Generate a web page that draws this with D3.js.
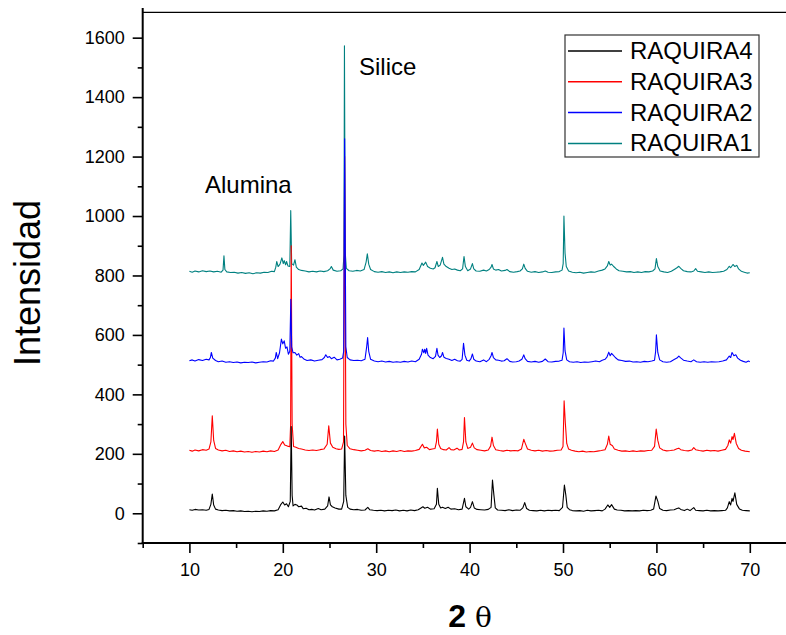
<!DOCTYPE html>
<html>
<head>
<meta charset="utf-8">
<script src="https://cdn.jsdelivr.net/npm/d3@7"></script>
<style>
  html, body { margin: 0; padding: 0; background: #fff; }
  svg { display: block; font-family: "Liberation Sans", Arial, sans-serif; }
</style>
</head>
<body>
<svg id="chart" width="786" height="635"></svg>
<script>
// XRD patterns: [2θ, intensity] pairs for each sample (offset stacked)
const raquira4 = [[10.0,12],[10.3,10],[10.6,13],[11.0,11],[11.4,12],[11.8,10],[12.1,13],[12.3,30],[12.45,65],[12.6,28],[12.8,14],[13.1,11],[13.5,9],[13.9,10],[14.3,8],[14.7,9],[15.1,7],[15.5,8],[15.9,6],[16.3,7],[16.7,5],[17.1,7],[17.5,6],[17.9,8],[18.3,7],[18.7,9],[19.1,8],[19.5,12],[19.8,30],[20.0,38],[20.2,28],[20.4,32],[20.6,22],[20.8,40],[20.9,292],[21.0,60],[21.1,25],[21.3,30],[21.5,28],[21.7,22],[22.0,24],[22.2,15],[22.5,17],[22.8,12],[23.1,13],[23.4,11],[23.8,16],[24.1,12],[24.5,14],[24.8,25],[24.95,55],[25.1,28],[25.3,22],[25.6,18],[26.0,14],[26.3,14],[26.52,40],[26.62,260],[26.75,60],[26.95,20],[27.2,14],[27.6,12],[28.0,13],[28.4,10],[28.8,11],[29.1,20],[29.3,12],[29.7,10],[30.1,9],[30.5,10],[30.9,8],[31.3,10],[31.7,9],[32.1,11],[32.5,8],[32.9,10],[33.3,8],[33.7,11],[34.1,9],[34.5,12],[34.8,18],[35.0,22],[35.2,17],[35.5,20],[35.8,14],[36.2,15],[36.45,30],[36.55,84],[36.7,30],[36.9,18],[37.1,20],[37.4,16],[37.7,20],[38.0,14],[38.4,15],[38.8,12],[39.2,14],[39.45,50],[39.6,22],[39.9,14],[40.1,20],[40.3,39],[40.5,18],[40.8,13],[41.2,12],[41.6,11],[42.0,13],[42.3,20],[42.45,112],[42.6,62],[42.75,18],[43.0,11],[43.4,10],[43.8,9],[44.2,12],[44.6,9],[45.0,11],[45.4,10],[45.7,18],[45.9,36],[46.1,16],[46.4,10],[46.8,9],[47.2,8],[47.6,10],[48.0,8],[48.4,10],[48.8,9],[49.2,10],[49.6,9],[49.95,20],[50.15,95],[50.3,62],[50.45,20],[50.7,12],[51.0,9],[51.4,8],[51.8,9],[52.2,7],[52.6,10],[53.0,8],[53.4,9],[53.8,10],[54.2,8],[54.5,14],[54.8,28],[55.0,20],[55.2,29],[55.5,14],[55.8,11],[56.2,10],[56.6,8],[57.0,9],[57.4,8],[57.8,9],[58.2,8],[58.6,10],[59.0,9],[59.4,10],[59.7,14],[59.95,58],[60.15,41],[60.35,16],[60.7,10],[61.1,9],[61.5,11],[61.9,12],[62.2,16],[62.4,18],[62.6,13],[63.0,9],[63.3,14],[63.6,9],[64.0,19],[64.2,10],[64.6,9],[65.0,8],[65.4,10],[65.8,8],[66.2,9],[66.6,8],[67.0,9],[67.4,10],[67.6,18],[67.8,39],[67.95,28],[68.1,50],[68.2,40],[68.4,69],[68.6,30],[68.9,14],[69.2,10],[69.6,9],[70.0,8]];

const raquira3 = [[10.0,212],[10.3,209],[10.6,213],[11.0,210],[11.4,214],[11.8,212],[12.1,216],[12.3,240],[12.45,328],[12.6,245],[12.8,218],[13.1,213],[13.5,210],[13.9,212],[14.3,208],[14.7,210],[15.1,207],[15.5,209],[15.9,206],[16.3,208],[16.7,205],[17.1,208],[17.5,206],[17.9,209],[18.3,207],[18.7,210],[19.1,208],[19.5,213],[19.8,232],[20.0,241],[20.2,230],[20.5,226],[20.75,224],[20.84,300],[20.9,900],[21.0,300],[21.15,225],[21.4,222],[21.7,218],[22.0,216],[22.4,213],[22.8,211],[23.2,213],[23.6,211],[24.0,214],[24.4,216],[24.75,232],[24.92,294],[25.1,236],[25.35,222],[25.7,217],[26.0,215],[26.3,216],[26.5,240],[26.62,1200],[26.75,300],[26.9,228],[27.2,217],[27.6,214],[28.0,212],[28.4,210],[28.8,212],[29.1,217],[29.4,211],[29.8,209],[30.2,211],[30.6,208],[31.0,210],[31.4,207],[31.8,210],[32.2,208],[32.6,211],[33.0,208],[33.4,210],[33.8,209],[34.2,211],[34.6,215],[34.95,232],[35.15,220],[35.4,222],[35.7,214],[36.0,216],[36.3,218],[36.45,240],[36.55,283],[36.7,232],[36.9,218],[37.2,214],[37.5,213],[37.8,221],[38.0,214],[38.3,213],[38.65,219],[38.9,213],[39.2,215],[39.35,240],[39.45,322],[39.6,240],[39.8,218],[40.1,222],[40.3,236],[40.5,220],[40.8,214],[41.2,212],[41.6,210],[42.0,213],[42.25,226],[42.4,256],[42.55,228],[42.8,214],[43.2,211],[43.6,209],[44.0,212],[44.4,210],[44.8,211],[45.2,210],[45.55,216],[45.8,249],[45.95,236],[46.2,216],[46.6,212],[47.0,210],[47.4,212],[47.8,209],[48.2,211],[48.6,209],[49.0,210],[49.4,212],[49.8,213],[50.0,225],[50.12,378],[50.25,304],[50.4,235],[50.6,216],[50.9,212],[51.3,209],[51.7,207],[52.1,209],[52.5,206],[52.9,208],[53.3,207],[53.7,209],[54.1,211],[54.5,214],[54.75,232],[54.9,260],[55.05,232],[55.3,227],[55.5,216],[55.9,212],[56.3,209],[56.7,210],[57.1,208],[57.5,210],[57.9,208],[58.3,210],[58.7,209],[59.1,211],[59.5,212],[59.8,225],[59.98,283],[60.15,245],[60.35,220],[60.7,213],[61.1,210],[61.5,211],[61.9,213],[62.2,217],[62.4,219],[62.6,214],[63.0,211],[63.4,210],[63.8,213],[64.0,221],[64.2,214],[64.6,211],[65.0,209],[65.4,212],[65.8,210],[66.2,211],[66.6,209],[67.0,212],[67.4,215],[67.65,228],[67.8,247],[67.95,236],[68.1,258],[68.2,248],[68.35,269],[68.55,235],[68.8,218],[69.1,212],[69.5,209],[70.0,207]];

const raquira2 = [[10.0,513],[10.3,516],[10.6,512],[11.0,517],[11.4,514],[11.8,518],[12.1,516],[12.25,524],[12.35,541],[12.5,522],[12.8,514],[13.1,510],[13.5,512],[13.9,508],[14.3,510],[14.7,507],[15.1,509],[15.5,506],[15.9,508],[16.3,507],[16.7,509],[17.1,506],[17.5,508],[17.9,510],[18.3,509],[18.7,513],[19.0,512],[19.2,522],[19.3,541],[19.45,520],[19.65,540],[19.85,586],[20.0,570],[20.15,580],[20.3,555],[20.45,560],[20.6,535],[20.75,545],[20.86,720],[20.95,560],[21.1,540],[21.3,541],[21.5,532],[21.7,537],[21.85,525],[22.0,527],[22.3,518],[22.6,514],[23.0,516],[23.4,512],[23.8,515],[24.2,517],[24.45,524],[24.6,533],[24.8,524],[25.0,527],[25.2,520],[25.5,525],[25.8,516],[26.1,518],[26.4,522],[26.52,545],[26.62,1260],[26.75,560],[26.9,524],[27.2,516],[27.6,514],[28.0,515],[28.4,513],[28.8,518],[28.98,560],[29.08,591],[29.2,545],[29.4,518],[29.8,512],[30.2,510],[30.6,512],[31.0,509],[31.4,511],[31.8,508],[32.2,510],[32.6,508],[33.0,511],[33.4,509],[33.8,512],[34.2,510],[34.6,518],[34.85,535],[34.95,552],[35.1,540],[35.2,552],[35.3,538],[35.4,555],[35.55,532],[35.8,524],[36.1,520],[36.35,528],[36.5,555],[36.62,532],[36.8,524],[37.0,530],[37.1,541],[37.25,525],[37.5,521],[37.8,518],[38.1,514],[38.4,518],[38.7,513],[39.0,512],[39.2,518],[39.35,572],[39.5,532],[39.7,515],[39.95,512],[40.15,520],[40.3,536],[40.45,518],[40.7,512],[41.1,510],[41.5,516],[41.8,510],[42.1,518],[42.3,530],[42.4,541],[42.55,524],[42.8,516],[43.1,515],[43.4,512],[43.7,513],[44.0,520],[44.3,511],[44.6,509],[45.0,510],[45.3,512],[45.6,518],[45.8,533],[45.95,520],[46.2,511],[46.6,509],[47.0,511],[47.4,508],[47.8,511],[48.1,519],[48.4,510],[48.8,509],[49.2,511],[49.6,512],[49.9,515],[50.02,540],[50.1,623],[50.22,546],[50.4,516],[50.7,510],[51.1,508],[51.5,510],[51.9,507],[52.3,509],[52.7,508],[53.1,510],[53.5,512],[53.9,510],[54.2,515],[54.5,518],[54.7,525],[54.9,542],[55.05,530],[55.2,538],[55.35,533],[55.6,524],[55.9,516],[56.3,514],[56.7,511],[57.1,512],[57.5,509],[57.9,510],[58.3,508],[58.7,511],[59.1,510],[59.5,512],[59.8,515],[59.92,545],[60.0,600],[60.15,541],[60.35,516],[60.7,510],[61.1,508],[61.5,510],[61.9,517],[62.2,522],[62.4,529],[62.6,523],[62.9,515],[63.3,512],[63.7,510],[64.0,516],[64.3,510],[64.7,508],[65.1,510],[65.5,508],[65.9,510],[66.3,509],[66.7,510],[67.1,512],[67.5,516],[67.8,529],[67.95,524],[68.1,541],[68.3,530],[68.5,533],[68.7,522],[69.0,515],[69.3,511],[69.6,508],[69.85,512],[70.0,510]];

const raquira1 = [[10.0,814],[10.3,811],[10.6,815],[11.0,812],[11.4,816],[11.8,813],[12.2,815],[12.6,812],[13.0,814],[13.4,811],[13.6,818],[13.7,866],[13.8,820],[14.0,812],[14.4,810],[14.8,811],[15.2,808],[15.6,810],[16.0,807],[16.4,809],[16.8,806],[17.2,809],[17.6,808],[18.0,811],[18.4,810],[18.8,814],[19.1,813],[19.25,828],[19.35,847],[19.5,830],[19.7,838],[19.9,859],[20.05,840],[20.15,850],[20.3,836],[20.4,847],[20.55,832],[20.75,830],[20.85,1018],[20.95,840],[21.15,835],[21.3,853],[21.45,828],[21.7,820],[22.0,817],[22.4,815],[22.8,812],[23.2,814],[23.6,812],[24.0,815],[24.4,813],[24.8,816],[25.05,822],[25.2,830],[25.4,818],[25.8,814],[26.2,816],[26.45,822],[26.55,870],[26.6,1573],[26.68,880],[26.8,824],[27.1,816],[27.5,814],[27.9,817],[28.3,815],[28.7,820],[28.92,845],[29.05,873],[29.2,838],[29.4,820],[29.8,813],[30.2,811],[30.6,813],[31.0,810],[31.4,812],[31.8,809],[32.2,812],[32.6,810],[33.0,812],[33.4,811],[33.8,813],[34.2,812],[34.6,820],[34.9,842],[35.05,834],[35.3,845],[35.5,830],[35.8,824],[36.1,822],[36.3,826],[36.5,847],[36.65,830],[36.85,835],[37.1,861],[37.25,838],[37.5,830],[37.8,824],[38.1,820],[38.4,822],[38.7,818],[39.0,816],[39.25,822],[39.4,864],[39.55,830],[39.8,816],[40.1,822],[40.3,840],[40.45,822],[40.7,815],[41.1,814],[41.5,818],[41.8,815],[42.1,820],[42.3,828],[42.4,837],[42.55,822],[42.8,818],[43.1,820],[43.4,815],[43.8,817],[44.0,820],[44.3,813],[44.7,811],[45.1,813],[45.4,815],[45.65,822],[45.8,838],[45.95,824],[46.2,814],[46.6,811],[47.0,813],[47.4,810],[47.8,812],[48.1,815],[48.4,811],[48.8,810],[49.2,812],[49.6,813],[49.9,818],[50.02,840],[50.1,1000],[50.22,875],[50.35,830],[50.6,815],[51.0,811],[51.4,809],[51.8,811],[52.2,808],[52.6,810],[53.0,812],[53.4,811],[53.8,815],[54.2,818],[54.5,822],[54.75,832],[54.9,847],[55.05,835],[55.2,838],[55.4,831],[55.7,822],[56.0,816],[56.4,814],[56.8,812],[57.2,813],[57.6,810],[58.0,812],[58.4,810],[58.8,813],[59.2,812],[59.6,815],[59.85,822],[60.0,857],[60.15,830],[60.4,815],[60.8,812],[61.2,810],[61.6,814],[62.0,822],[62.2,826],[62.4,831],[62.6,824],[62.9,816],[63.3,813],[63.7,812],[64.0,815],[64.2,823],[64.4,814],[64.8,812],[65.2,810],[65.6,812],[66.0,810],[66.4,811],[66.8,812],[67.2,814],[67.55,820],[67.8,831],[67.95,826],[68.2,837],[68.4,830],[68.6,834],[68.8,822],[69.1,814],[69.4,811],[69.7,808],[70.0,809]];

// Series names and colours (legend order)
const seriesNames = ["RAQUIRA4", "RAQUIRA3", "RAQUIRA2", "RAQUIRA1"];
const seriesColors = ["#000000", "#ff0000", "#0000ff", "#008080"];
const seriesData = [raquira4, raquira3, raquira2, raquira1];
// painting order: RAQUIRA1 underneath, then RAQUIRA3, RAQUIRA2, RAQUIRA4 on top
const drawOrder = [3, 1, 2, 0];

// Axis ticks
const xMajorTicks = [10, 20, 30, 40, 50, 60, 70];
const xMinorTicks = [5, 15, 25, 35, 45, 55, 65];
const yMajorTicks = [0, 200, 400, 600, 800, 1000, 1200, 1400, 1600];
const yMinorTicks = [-100, 100, 300, 500, 700, 900, 1100, 1300, 1500];

// Peak annotations
const annotations = [
  { text: "Alumina", x: 205, y: 193 },
  { text: "Silice", x: 359, y: 75 }
];

const svg = d3.select("#chart");
const W = 786, H = 635;
const plotLeft = 142.7, plotBottom = 543, plotTop = 12.4;

const x = d3.scaleLinear().domain([5, 75]).range([plotLeft, plotLeft + 70 * 9.34]);
const y = d3.scaleLinear().domain([-100, 1685]).range([plotBottom, plotTop]);

// plot lines
const line = d3.line().x(d => x(d[0])).y(d => y(d[1]));
const plot = svg.append("g");
drawOrder.forEach(i => {
  plot.append("path")
    .datum(seriesData[i])
    .attr("fill", "none")
    .attr("stroke", seriesColors[i])
    .attr("stroke-width", 1.1)
    .attr("stroke-linejoin", "round")
    .attr("d", line);
});

// axes
const fontTick = 18;
const fmt = d3.format("d");
const xAxis = svg.append("g").attr("transform", `translate(0,${plotBottom})`)
  .call(d3.axisBottom(x).tickValues(xMajorTicks).tickFormat(fmt).tickSize(10).tickPadding(10).tickSizeOuter(0));
const xMinor = svg.append("g").attr("transform", `translate(0,${plotBottom})`)
  .call(d3.axisBottom(x).tickValues(xMinorTicks).tickSize(5).tickFormat("").tickSizeOuter(0));
const yAxis = svg.append("g").attr("transform", `translate(${plotLeft},0)`)
  .call(d3.axisLeft(y).tickValues(yMajorTicks).tickFormat(fmt).tickSize(10).tickPadding(8).tickSizeOuter(0));
const yMinor = svg.append("g").attr("transform", `translate(${plotLeft},0)`)
  .call(d3.axisLeft(y).tickValues(yMinorTicks).tickSize(5).tickFormat("").tickSizeOuter(0));

[xAxis, xMinor, yAxis, yMinor].forEach(g => {
  g.select(".domain").remove();
  g.selectAll(".tick line").attr("stroke", "#000").attr("stroke-width", 1.6);
  g.selectAll(".tick text").attr("font-size", fontTick).attr("fill", "#000")
    .attr("font-family", "'Liberation Sans', Arial, sans-serif");
});

// axis lines and top frame
svg.append("line").attr("x1", plotLeft - 1).attr("x2", W).attr("y1", plotBottom).attr("y2", plotBottom)
  .attr("stroke", "#000").attr("stroke-width", 2);
svg.append("line").attr("x1", plotLeft).attr("x2", plotLeft).attr("y1", plotBottom + 1).attr("y2", 8)
  .attr("stroke", "#000").attr("stroke-width", 2);
svg.append("line").attr("x1", plotLeft).attr("x2", W).attr("y1", plotTop).attr("y2", plotTop)
  .attr("stroke", "#000").attr("stroke-width", 1.2);

// axis titles
svg.append("text")
  .attr("transform", "translate(40,283) rotate(-90)")
  .attr("text-anchor", "middle")
  .attr("font-size", 36)
  .text("Intensidad");

const xt = svg.append("text")
  .attr("x", 470).attr("y", 627)
  .attr("text-anchor", "middle")
  .attr("font-size", 32);
xt.append("tspan").attr("font-weight", "bold").text("2");
xt.append("tspan").attr("font-family", "'DejaVu Serif', serif").attr("font-size", 28).text(" θ");

// annotations
annotations.forEach(a => {
  svg.append("text").attr("x", a.x).attr("y", a.y).attr("font-size", 24).text(a.text);
});

// legend
const lg = svg.append("g");
lg.append("rect").attr("x", 565).attr("y", 35).attr("width", 194).attr("height", 122)
  .attr("fill", "#fff").attr("stroke", "#333").attr("stroke-width", 1.2);
seriesNames.forEach((name, i) => {
  const ry = 51 + i * 30.8;
  lg.append("line").attr("x1", 568).attr("x2", 622).attr("y1", ry).attr("y2", ry)
    .attr("stroke", seriesColors[i]).attr("stroke-width", 1.5);
  lg.append("text").attr("x", 630).attr("y", ry + 8).attr("font-size", 24).text(name);
});
</script>
</body>
</html>
